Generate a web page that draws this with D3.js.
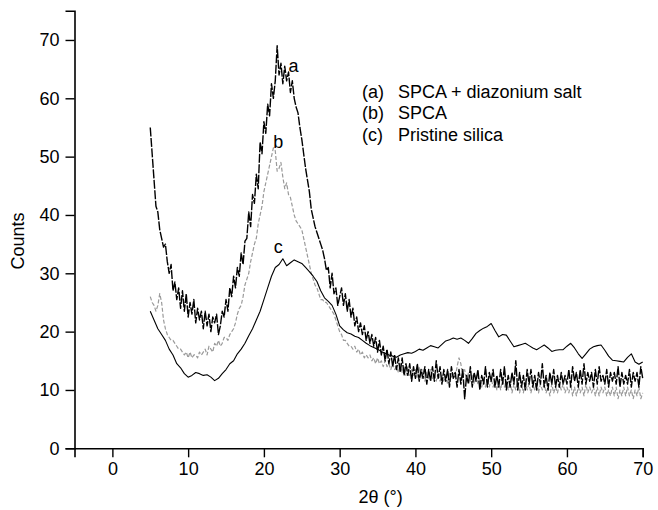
<!DOCTYPE html>
<html>
<head>
<meta charset="utf-8">
<script src="https://cdn.jsdelivr.net/npm/d3@7/dist/d3.min.js"></script>
<style>
  html, body { margin: 0; padding: 0; background: #fff; }
  svg text { font-family: "Liberation Sans", Arial, Helvetica, sans-serif; fill: #000; }
</style>
</head>
<body>
<div class="chart"></div>
<script>
// scan start and step sizes (2theta, degrees)
var scanStart = 5;
var stepFine = 0.25;
var stepCoarse = 0.5;

// (a) SPCA + diazonium salt, step 0.25 from 5 to 70
var countsA = [
  55, 50.5, 46, 41.5,
  40.5, 37.5, 36, 34.5,
  35, 32, 30, 31.5,
  27, 28.5, 25.5, 27.5,
  24, 27, 23.5, 26.5,
  22.5, 25, 23, 25.5,
  21.5, 24, 22, 23.5,
  20.5, 23.5, 21, 23,
  20, 22.5, 21.5, 23,
  19.5, 21, 23.5, 22.5,
  25.5, 23.5, 27.5, 26,
  29.5, 27.5, 31, 29.5,
  33.5, 31.5, 35.5, 36,
  40.5, 38, 43.5, 42,
  47, 44.5, 52.5, 50.5,
  56, 54, 59, 57,
  62.5, 60, 63, 69,
  64, 66, 62.5, 65.5,
  63, 64.5, 61, 63,
  60, 58.5, 57.5, 55,
  53, 50.5, 48, 46,
  44, 41, 39.5, 38,
  37, 36, 35, 34,
  32.5, 30.5, 31, 27.5,
  30, 26.5, 27.5, 24.5,
  26, 27.5, 24.5, 26.5,
  23.5, 25.5, 22.5, 24,
  21, 22.5, 20, 21.5,
  19.5, 21, 18.5, 20,
  18, 19.5, 17.5, 19,
  16.5, 18.5, 16, 17.5,
  15, 17, 14.5, 16.5,
  14, 16, 13.5, 15.5,
  13, 15.5, 12.5, 14.5,
  12.5, 14.5, 11.5, 14,
  12, 14.5, 11.5, 13.5,
  12, 14, 11, 13.5,
  11.5, 14, 11.5, 15,
  12, 14, 11, 13.5,
  11.5, 13.5, 10.5, 14,
  12, 13, 10.5, 13.5,
  11, 13.5, 8.5, 12.5,
  11, 14, 10.5, 13,
  11.5, 13.5, 10, 12.5,
  11, 14, 10.5, 13,
  11.5, 13.5, 10.5, 12.5,
  10.5, 13.5, 11, 14,
  10, 12.5, 10.5, 13,
  11, 15, 10, 13,
  10.5, 12.5, 10, 13.5,
  11, 13.5, 10.5, 12.5,
  10, 13, 11, 14.5,
  10.5, 12.5, 10, 13,
  11, 13.5, 10.5, 12.5,
  10.5, 13, 11, 12.5,
  11, 13.5, 10.5, 14,
  11.5, 13, 10.5, 13.5,
  11, 14.5, 11, 13,
  11.5, 13, 10.5, 13.5,
  11, 14, 11.5, 12.5,
  11, 13.5, 10.5, 13,
  11.5, 13, 11, 14,
  10.5, 13, 11, 12.5,
  11, 13.5, 10.5, 13,
  11.5, 13, 10.5, 14,
  12
];

// (b) SPCA, step 0.25 from 5 to 70
var countsB = [
  26, 25, 24.5, 23.5,
  24.5, 26.5, 25, 22,
  20.5, 19.5, 19, 18.5,
  18.5, 18, 17.5, 17,
  17, 16.5, 16, 16.5,
  15.5, 16.5, 15.5, 16,
  16, 15.5, 16.5, 16,
  16.5, 17, 16, 17.5,
  17, 16.5, 18, 17.5,
  18.5, 17.5, 18, 19,
  19, 18.5, 19.5, 20,
  20.5, 21.5, 23, 24,
  24.5, 26, 28, 29,
  30, 32, 33.5, 35,
  36, 38.5, 40, 41.5,
  44, 45.5, 47, 48.5,
  50, 51.5, 51, 47.5,
  48, 49, 46.5, 44.5,
  45.5, 43.5, 43, 41.5,
  40, 39, 38.5, 38,
  37.5, 36, 34.5, 33,
  31.5, 30, 29, 28,
  27.5, 26.5, 25.5, 25.5,
  25, 25, 24.5, 24,
  23.5, 23, 22, 21,
  20, 19.5, 18.5, 18.5,
  18, 17.5, 17.5, 17,
  17.5, 16.5, 17, 16,
  16.5, 15.5, 16, 15.5,
  16, 15, 15.5, 14.5,
  15.5, 14.5, 15, 14,
  15, 14, 14.5, 13.5,
  14.5, 13.5, 14, 13,
  14.5, 13, 14, 12.5,
  14, 12.5, 13.5, 12.5,
  13.5, 12, 14, 12,
  13.5, 11.5, 13, 12,
  13.5, 12, 12.5, 11.5,
  13, 11.5, 12.5, 11.5,
  12.5, 11, 13, 12,
  13, 12, 14, 15.5,
  14.5, 12, 13.5, 11.5,
  13, 11.5, 12.5, 11,
  12.5, 11, 12, 10.5,
  12, 10.5, 12, 10.5,
  12, 10.5, 11.5, 10,
  11.5, 10, 12, 10.5,
  11.5, 10, 11.5, 9.5,
  11, 10, 11.5, 9.5,
  11, 9.5, 11.5, 10,
  11, 9.5, 11, 10,
  11.5, 9.5, 11, 10,
  11, 9.5, 10.5, 9,
  11, 9.5, 10.5, 9.5,
  11, 10, 11, 9.5,
  10.5, 9.5, 11, 9,
  10.5, 9, 10.5, 9.5,
  10.5, 9, 11, 9.5,
  10.5, 9.5, 10.5, 9,
  10.5, 9, 10.5, 9.5,
  10.5, 9, 10, 9,
  10.5, 9, 10.5, 8.5,
  10, 9, 10.5, 9,
  10.5, 9, 10, 8.5,
  10, 9, 10.5, 8.5,
  9.5
];

// (c) Pristine silica, step 0.5 from 5 to 70
var countsC = [
  23.5, 22, 20.5, 19.5, 18.5, 17, 16, 14.5, 13.8, 12.8,
  12.2, 12.5, 13, 12.8, 12.5, 12.6, 12.2, 11.6, 12, 12.8,
  13.5, 14.5, 15, 16.2, 17, 18, 19.3, 20.5, 22, 23.5,
  25.5, 27.5, 29.5, 31, 31.5, 32.5, 31.3, 31.8, 32.3, 32,
  31.7, 31, 30.3, 29.5, 28.6, 27, 25.8, 25.2, 24.5, 23,
  21, 20.3, 19.8, 19.6, 19.2, 19, 18.5, 18, 17.6, 17.3,
  17, 16.6, 16.3, 16, 15.8, 15.6, 16, 16.2, 16.4, 16.3,
  16.6, 17, 16.8, 17.2, 17.6, 17.4, 17.2, 17.8, 18.4, 18.6,
  18.9, 18.7, 18.9, 18.5, 18, 18.8, 19.7, 20.2, 20.6, 20.9,
  21.4, 20.2, 19.1, 19.5, 19.4, 18.4, 17.4, 17.6, 17.8, 18,
  17.6, 17.2, 16.9, 17.3, 17.7, 17.2, 16.6, 16.8, 16.9, 16.9,
  17.5, 18, 17.2, 16.2, 15.4, 16.2, 17, 17.4, 17.6, 17.7,
  16.8, 15.8, 15.1, 15, 14.9, 14.8, 15.6, 16.2, 14.8, 14.4,
  14.8
];

var xTickValues = [0, 10, 20, 30, 40, 50, 60, 70];
var yTickValues = [0, 10, 20, 30, 40, 50, 60, 70];
var legendKeys = ['(a)', '(b)', '(c)'];
var legendNames = ['SPCA + diazonium salt', 'SPCA', 'Pristine silica'];
var curveLabels = ['a', 'b', 'c'];
// where the a/b/c tags sit, in data units
var curveLabelTheta = [23.9, 21.9, 21.9];
var curveLabelCounts = [64.5, 51.5, 33.5];

var width = 658,
  height = 510,
  margin = {top: 10.8, right: 15.3, bottom: 61.7, left: 74.5},
  fontSize = '18px';

var svg = d3.select('.chart').append('svg')
  .attr('width', width)
  .attr('height', height);

var x = d3.scaleLinear().domain([-5, 70]).range([margin.left, width - margin.right]);
var y = d3.scaleLinear().domain([0, 75]).range([height - margin.bottom, margin.top]);

function toPoints(values, step) {
  return values.map(function(v, i) {
    return {t: scanStart + i * step, c: v};
  });
}

var series = [
  {name: 'a', pts: toPoints(countsA, stepFine), color: '#000', width: 1.4, dash: '9,1.5'},
  {name: 'b', pts: toPoints(countsB, stepFine), color: '#9a9a9a', width: 1.2, dash: '4,2'},
  {name: 'c', pts: toPoints(countsC, stepCoarse), color: '#000', width: 1.1, dash: null}
];

var line = d3.line()
  .x(function(d) { return x(d.t); })
  .y(function(d) { return y(d.c); });

// draw b first so the black curves sit on top
svg.append('g').attr('class', 'curves')
  .selectAll('path')
  .data([series[1], series[2], series[0]])
  .enter().append('path')
  .attr('d', function(s) { return line(s.pts); })
  .attr('fill', 'none')
  .attr('stroke', function(s) { return s.color; })
  .attr('stroke-width', function(s) { return s.width; })
  .attr('stroke-dasharray', function(s) { return s.dash; })
  .attr('stroke-linejoin', 'round');

// axes
var xAxis = svg.append('g')
  .attr('transform', 'translate(0,' + y(0) + ')');
xAxis.call(d3.axisBottom(x).tickValues(d3.range(-5, 71, 5)).tickSize(5).tickFormat(''));
xAxis.call(d3.axisBottom(x).tickValues(xTickValues).tickSize(9).tickPadding(5).tickFormat(d3.format('d')));

var yAxis = svg.append('g')
  .attr('transform', 'translate(' + x(-5) + ',0)');
yAxis.call(d3.axisLeft(y).tickValues(d3.range(5, 76, 10)).tickSize(5).tickFormat(''));
yAxis.call(d3.axisLeft(y).tickValues(yTickValues).tickSize(9).tickPadding(6).tickFormat(d3.format('d')));

svg.selectAll('.domain').attr('stroke', '#000').attr('stroke-width', 1.6);
svg.selectAll('.tick line').attr('stroke', '#000').attr('stroke-width', 1.4);
svg.selectAll('.tick text')
  .style('font-size', fontSize)
  .style('font-family', '"Liberation Sans", Arial, sans-serif')
  .attr('fill', '#000');

// axis titles
svg.append('text')
  .attr('x', x(35.4))
  .attr('y', 503)
  .attr('text-anchor', 'middle')
  .style('font-size', fontSize)
  .text('2\u03b8 (\u00b0)');

svg.append('text')
  .attr('transform', 'translate(24,241) rotate(-90)')
  .attr('text-anchor', 'middle')
  .style('font-size', fontSize)
  .text('Counts');

// curve tags
svg.append('g').selectAll('text')
  .data(curveLabels)
  .enter().append('text')
  .attr('x', function(d, i) { return x(curveLabelTheta[i]); })
  .attr('y', function(d, i) { return y(curveLabelCounts[i]); })
  .attr('text-anchor', 'middle')
  .style('font-size', fontSize)
  .text(function(d) { return d; });

// legend
var legend = svg.append('g').attr('class', 'legend');
legend.selectAll('.key')
  .data(legendKeys)
  .enter().append('text')
  .attr('class', 'key')
  .attr('x', 362)
  .attr('y', function(d, i) { return 97.5 + i * 21.6; })
  .style('font-size', fontSize)
  .text(function(d) { return d; });
legend.selectAll('.name')
  .data(legendNames)
  .enter().append('text')
  .attr('class', 'name')
  .attr('x', 398)
  .attr('y', function(d, i) { return 97.5 + i * 21.6; })
  .style('font-size', fontSize)
  .text(function(d) { return d; });
</script>
</body>
</html>
